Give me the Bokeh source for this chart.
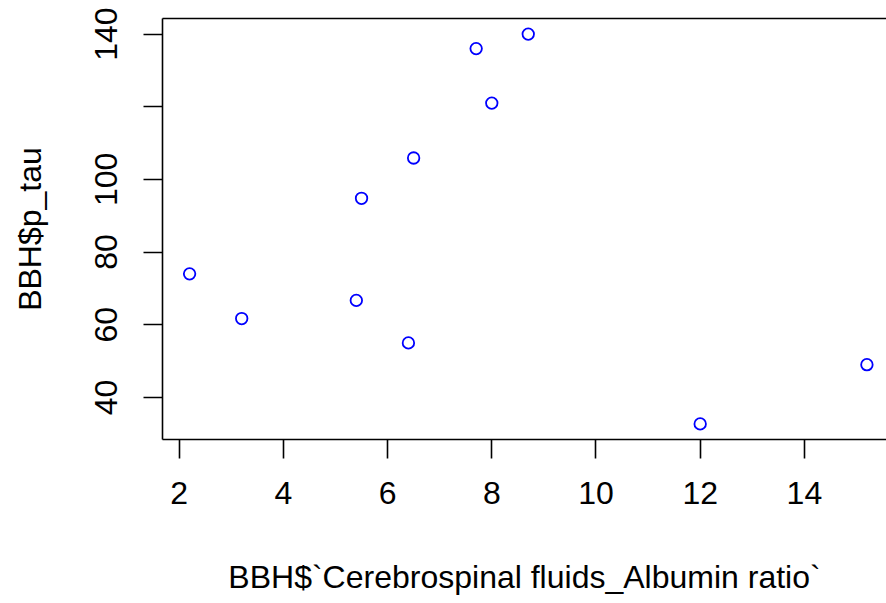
from bokeh.plotting import figure
from bokeh.models import LinearAxis, FixedTicker, Range1d
from bokeh.embed import file_html
from bokeh.resources import INLINE

# data
albumin_ratio = [2.2, 3.2, 5.4, 5.5, 6.4, 6.5, 7.7, 8.0, 8.7, 12.0, 15.2]
p_tau = [74, 61.7, 66.7, 94.8, 55, 105.9, 136, 121, 140, 32.7, 49]
x_ticks = [2, 4, 6, 8, 10, 12, 14]
y_ticks = [40, 60, 80, 100, 120, 140]
y_tick_labels = {40: "40", 60: "60", 80: "80", 100: "100", 120: "", 140: "140"}
x_label = "BBH$`Cerebrospinal fluids_Albumin ratio`"
y_label = "BBH$p_tau"

FONT = "Liberation Sans"
FS = "32px"

ymin, ymax = min(p_tau), max(p_tau)
ypad = 0.04 * (ymax - ymin)
xmin, xmax = min(albumin_ratio), max(albumin_ratio)
xpad = 0.04 * (xmax - xmin)

p = figure(width=886, height=603, output_backend="svg", toolbar_location=None,
           x_range=Range1d(xmin - xpad, 15.576), y_range=Range1d(ymin - ypad, ymax + ypad),
           min_border_left=162, min_border_right=0, min_border_top=18, min_border_bottom=164,
           x_axis_label=x_label, y_axis_label=y_label)
p.outline_line_color = None
p.grid.visible = False
p.background_fill_color = "white"
p.border_fill_color = "white"

p.xaxis.ticker = FixedTicker(ticks=x_ticks)
p.yaxis.ticker = FixedTicker(ticks=y_ticks)
p.yaxis.major_label_overrides = {k: v for k, v in y_tick_labels.items()}
p.yaxis.major_label_orientation = "vertical"

for ax in (p.xaxis, p.yaxis):
    ax.major_tick_out = 19
    ax.major_tick_in = 0
    ax.minor_tick_out = 0
    ax.minor_tick_in = 0
    ax.axis_line_color = "black"
    ax.axis_line_width = 1.6
    ax.major_tick_line_color = "black"
    ax.major_tick_line_width = 1.6
    ax.major_label_text_font = FONT
    ax.major_label_text_font_size = FS
    ax.major_label_text_color = "black"
    ax.axis_label_text_font = FONT
    ax.axis_label_text_font_size = FS
    ax.axis_label_text_font_style = "normal"
    ax.axis_label_text_color = "black"

p.xaxis.major_label_standoff = 23
p.yaxis.major_label_standoff = 26
p.xaxis.axis_label_standoff = 52
p.yaxis.axis_label_standoff = 45

top = LinearAxis(ticker=FixedTicker(ticks=[]), axis_line_color="black", axis_line_width=1.6,
                 major_tick_out=0, major_tick_in=0, minor_tick_out=0, minor_tick_in=0)
p.add_layout(top, "above")

p.scatter(albumin_ratio, p_tau, marker="circle", size=11.5, fill_color=None,
          line_color="#0000ff", line_width=1.8)

open("out.html", "w").write(file_html(p, INLINE))
